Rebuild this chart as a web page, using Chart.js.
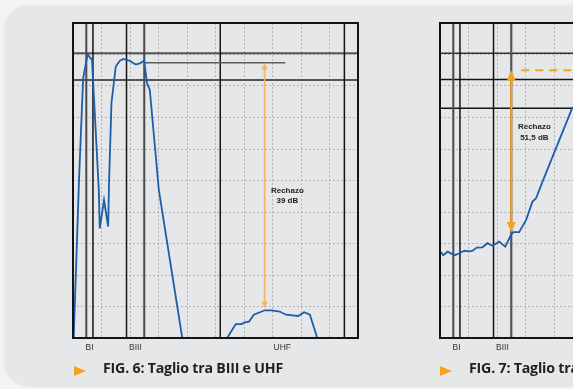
<!DOCTYPE html>
<html>
<head>
<meta charset="utf-8">
<script src="https://cdn.jsdelivr.net/npm/chart.js@4.4.1/dist/chart.umd.min.js"></script>
<style>
  html, body { margin: 0; padding: 0; width: 573px; height: 389px; overflow: hidden; background: #f4f4f4; }
  #panel { position: absolute; left: 6px; top: 7px; width: 640px; height: 378px; background: #e6e7e8;
           border-radius: 22px; box-shadow: 0 0 5px rgba(0,0,0,0.13); }
  canvas { position: absolute; top: 0; }
  #fig6 { left: 0; }
  #fig7 { left: 367px; }
  .tri { position: absolute; width: 0; height: 0; border-top: 5px solid transparent;
         border-bottom: 5px solid transparent; border-left: 12px solid #f7a21b; }
  .cap { position: absolute; font: 700 14.2px 'Open Sans', sans-serif; letter-spacing: -0.2px;
         line-height: 16px; color: #231f20; white-space: nowrap; }
</style>
</head>
<body>
<div id="panel"></div>
<canvas id="fig6" width="400" height="389"></canvas>
<canvas id="fig7" width="400" height="389"></canvas>
<div class="tri" style="left:74px; top:365.5px"></div>
<div class="cap" style="left:103px; top:360px">FIG. 6: Taglio tra BIII e UHF</div>
<div class="tri" style="left:440px; top:365.5px"></div>
<div class="cap" style="left:469px; top:360px">FIG. 7: Taglio tra BIII e UHF</div>

<script>
// Frequency axis (MHz): 10 divisions of 90 MHz
const FREQ_MIN = 5;
const FREQ_MAX = 905;
const FREQ_STEP = 90;

// TV bands: names and edge frequencies (MHz)
const bandNames = ['BI', 'BIII', 'UHF'];
const bandEdges = [[47, 68], [174, 230], [470, 862]];

// FIG. 6 — low-pass response, 5 dB/div
const fig6Freq  = [6.5, 24, 37, 51, 65, 86.5, 89.5, 103, 116, 119, 126.5, 140, 153, 165, 184, 203, 216, 229.5,
                   239, 247.5, 276, 351, 420, 488, 519, 537, 548, 561, 576, 611, 632, 658, 677, 716, 735, 753, 774, 776];
const fig6Level = [-51, -24.9, -8.8, -5.0, -5.9, -26.5, -32.6, -28.1, -32.3, -24.9, -12.7, -6.9, -6.0, -5.7, -6.0,
                   -6.6, -6.4, -6.0, -9.6, -10.6, -26.5, -50.3, null, -50.3, -47.8, -47.8, -47.5, -47.4, -46.3,
                   -45.6, -45.6, -45.8, -46.3, -46.5, -45.9, -46.3, -49.6, -50.3];
const fig6Markers   = [-4.8, -9.05];
const fig6RefLevel  = -6.3;
const fig6RefSpan   = [232, 675];
const fig6Rejection = 39;
const fig6ArrowFreq = 610;

// FIG. 7 — high-pass response, 10 dB/div
const fig7Freq  = [6, 15, 29, 42, 52, 66, 82, 97, 108, 121, 139, 155, 171, 192, 211, 229, 236.5, 255, 277, 297,
                   308, 331, 424];
const fig7Level = [-72.6, -73.7, -72.6, -73.3, -73.7, -73.1, -72.3, -72.5, -72.3, -71.3, -71.2, -69.9, -70.7,
                   -69.4, -71.0, -67.3, -66.4, -66.4, -62.5, -56.7, -55.7, -49.8, -26.6];
const fig7Markers   = [-9.6, -17.9, -27.1];
const fig7RefLevel  = -15;
const fig7Rejection = 51.5;
const fig7ArrowFreq = 230;

const DARK = '#4a4a4a', BLACK = '#141414';

function line(ctx, x1, y1, x2, y2, color, width, dash) {
  ctx.save();
  ctx.strokeStyle = color;
  ctx.lineWidth = width;
  ctx.setLineDash(dash || []);
  ctx.beginPath();
  ctx.moveTo(x1, y1);
  ctx.lineTo(x2, y2);
  ctx.stroke();
  ctx.restore();
}

function arrow(ctx, px, yTop, yBot, st) {
  line(ctx, px, yTop + st.head - 1, px, yBot - st.head + 1, st.color, st.width);
  ctx.save();
  ctx.fillStyle = st.color;
  ctx.beginPath();
  ctx.moveTo(px, yTop);
  ctx.lineTo(px - st.headW / 2, yTop + st.head);
  ctx.lineTo(px + st.headW / 2, yTop + st.head);
  ctx.closePath();
  ctx.fill();
  ctx.beginPath();
  ctx.moveTo(px, yBot);
  ctx.lineTo(px - st.headW / 2, yBot - st.head);
  ctx.lineTo(px + st.headW / 2, yBot - st.head);
  ctx.closePath();
  ctx.fill();
  ctx.restore();
}

// Draws band edges, level markers, rejection arrow, labels and the frame
function overlayFor(s) {
  return {
    id: 'overlay',
    beforeDatasetsDraw(chart) {
      const { ctx, chartArea: a, scales: { x, y } } = chart;
      ctx.save();
      ctx.beginPath();
      ctx.rect(a.left, a.top, a.right - a.left, a.bottom - a.top);
      ctx.clip();
      s.markers.forEach((lvl, i) => {
        const py = y.getPixelForValue(lvl);
        const st = s.markerStyles[i];
        line(ctx, a.left, py, a.right, py, st.color, st.width);
      });
      bandEdges.forEach((edges, b) => edges.forEach((f, k) => {
        const px = x.getPixelForValue(f);
        const st = s.edgeStyles[b][k];
        line(ctx, px, a.top, px, a.bottom, st.color, st.width);
      }));
      if (s.refSpan) {
        const py = y.getPixelForValue(s.refLevel);
        line(ctx, x.getPixelForValue(s.refSpan[0]), py, x.getPixelForValue(s.refSpan[1]), py, '#5c5c5c', 1.4);
      }
      ctx.restore();
    },
    afterDatasetsDraw(chart) {
      const { ctx, chartArea: a, scales: { x, y } } = chart;
      ctx.save();
      ctx.beginPath();
      ctx.rect(a.left - 2, a.top - 2, a.right - a.left + 4, a.bottom - a.top + 4);
      ctx.clip();
      const ax = x.getPixelForValue(s.arrowFreq);
      const yTop = y.getPixelForValue(s.refLevel);
      const yBot = y.getPixelForValue(s.refLevel - s.rejection);
      if (s.refDashed) {
        line(ctx, ax + 10, yTop, a.right, yTop, s.arrow.color, 2, [8, 6]);
      }
      arrow(ctx, ax, yTop, yBot, s.arrow);
      // rejection label
      ctx.fillStyle = '#1e1e1e';
      ctx.font = 'bold 8px "Liberation Sans", Arial, sans-serif';
      ctx.textAlign = 'center';
      ctx.textBaseline = 'middle';
      const lx = x.getPixelForValue(s.labelFreq);
      const ly = y.getPixelForValue(s.labelLevel);
      ctx.fillText('Rechazo', lx, ly);
      ctx.fillText(String(s.rejection).replace('.', ',') + ' dB', lx, ly + s.labelGap);
      // frame
      ctx.strokeStyle = BLACK;
      ctx.lineWidth = 2;
      ctx.strokeRect(a.left, a.top, a.right - a.left, a.bottom - a.top);
      ctx.restore();
      // band names under the plot
      ctx.save();
      ctx.fillStyle = '#333333';
      ctx.font = '8.5px "Liberation Sans", Arial, sans-serif';
      ctx.textAlign = 'center';
      ctx.textBaseline = 'middle';
      bandNames.forEach((name, b) => {
        const cx = (x.getPixelForValue(bandEdges[b][0]) + x.getPixelForValue(bandEdges[b][1])) / 2;
        ctx.fillText(name, cx, a.bottom + 9.5);
      });
      ctx.restore();
    }
  };
}

function build(id, freq, level, yMin, yStep, s) {
  return new Chart(document.getElementById(id), {
    type: 'line',
    data: {
      datasets: [{
        data: freq.map((f, i) => ({ x: f, y: level[i] })),
        borderColor: '#1d5ea8',
        borderWidth: 1.8,
        pointRadius: 0,
        tension: 0,
        spanGaps: false,
        fill: false
      }]
    },
    options: {
      responsive: false,
      animation: false,
      devicePixelRatio: 1,
      layout: { padding: { left: 73, top: 23, right: 42, bottom: 51 } },
      plugins: { legend: { display: false }, tooltip: { enabled: false } },
      scales: {
        x: {
          type: 'linear', min: FREQ_MIN, max: FREQ_MAX,
          ticks: { display: false, stepSize: FREQ_STEP },
          grid: { color: '#b4b4b4', lineWidth: 1, drawTicks: false },
          border: { display: false, dash: [2, 2] }
        },
        y: {
          type: 'linear', min: yMin, max: 0,
          ticks: { display: false, stepSize: yStep },
          grid: { color: '#b4b4b4', lineWidth: 1, drawTicks: false },
          border: { display: false, dash: [2, 2] }
        }
      }
    },
    plugins: [overlayFor(s)]
  });
}

const thick = { color: DARK, width: 2 };
const thin = { color: BLACK, width: 1.5 };

build('fig6', fig6Freq, fig6Level, -50, 5, {
  markers: fig6Markers,
  markerStyles: [{ color: '#555555', width: 2 }, { color: '#555555', width: 2 }],
  edgeStyles: [[thick, thin], [thin, thick], [thin, thin]],
  refLevel: fig6RefLevel,
  refSpan: fig6RefSpan,
  refDashed: false,
  rejection: fig6Rejection,
  arrowFreq: fig6ArrowFreq,
  arrow: { color: '#f4b466', width: 1.7, head: 7, headW: 6.5 },
  labelFreq: 682,
  labelLevel: -26.7,
  labelGap: 9.5
});

build('fig7', fig7Freq, fig7Level, -100, 10, {
  markers: fig7Markers,
  markerStyles: [{ color: '#333333', width: 1.5 }, { color: BLACK, width: 1.5 }, { color: BLACK, width: 1.5 }],
  edgeStyles: [[thick, thin], [thin, { color: '#555555', width: 2.2 }], [thin, thin]],
  refLevel: fig7RefLevel,
  refSpan: null,
  refDashed: true,
  rejection: fig7Rejection,
  arrowFreq: fig7ArrowFreq,
  arrow: { color: '#f7a21b', width: 2, head: 10.5, headW: 9 },
  labelFreq: 303,
  labelLevel: -33.1,
  labelGap: 11
});
</script>
</body>
</html>
